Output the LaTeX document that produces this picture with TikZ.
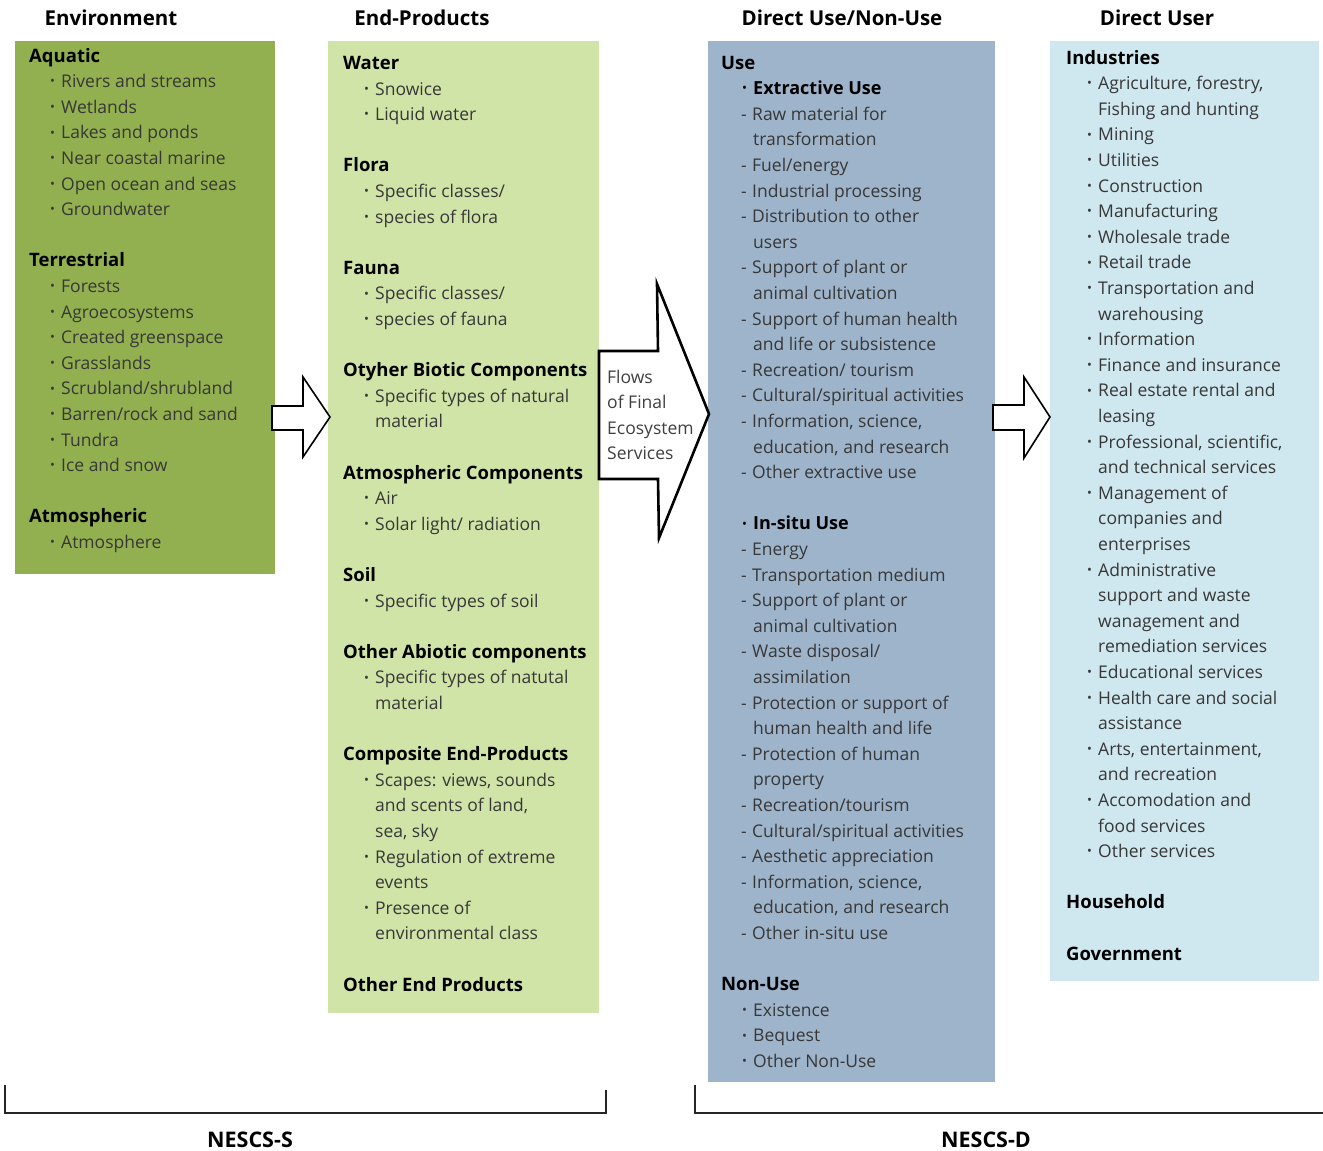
\documentclass[tikz,border=0pt]{standalone}
\usepackage{fontspec}
\setmainfont{Open Sans}
\definecolor{envgreen}{RGB}{146,176,80}
\definecolor{endgreen}{RGB}{209,228,167}
\definecolor{useblue}{RGB}{158,180,203}
\definecolor{userblue}{RGB}{207,231,238}
\definecolor{itemgray}{RGB}{55,55,55}
\newcommand\smallbul{\raisebox{0.1em}{\fontsize{13}{13}\selectfont\textbullet}}
\newcommand\hd[1]{{\fontsize{18.5}{20}\selectfont\bfseries\color{black}#1}}
\newcommand\bi[1]{\hspace*{21pt}\makebox[11pt][l]{\smallbul}#1}
\newcommand\bb[1]{\hspace*{21pt}\makebox[11pt][l]{\color{black}\smallbul}{\fontsize{18}{20}\selectfont\bfseries\color{black}#1}}
\newcommand\cn[1]{\hspace*{32pt}#1}
\newcommand\da[1]{\hspace*{20pt}\makebox[11pt][l]{-}#1}
\begin{document}
\begin{tikzpicture}[x=1pt,y=-1pt,
  txt/.style={font=\fontsize{17.5}{20}\selectfont, inner sep=0pt, anchor=base west, text=itemgray},
  colhead/.style={font=\bfseries\fontsize{20.5}{22}\selectfont, inner sep=0pt, anchor=base},
  foot/.style={font=\bfseries\fontsize{21.5}{22}\selectfont, inner sep=0pt, anchor=base},
  blockarrow/.style={draw=black, fill=white, line join=miter},
  bracket/.style={draw=black!85, line width=1.6pt}]
\useasboundingbox (0,0) rectangle (1323,1151);

% column headers
\node[colhead] (h1) at (111,25) {Environment};
\node[colhead] (h2) at (422,25) {End-Products};
\node[colhead] (h3) at (842,25) {Direct Use/Non-Use};
\node[colhead] (h4) at (1157,25) {Direct User};

% boxes
\fill[envgreen] (15,41) rectangle (275,574);
\fill[endgreen] (328,41) rectangle (599,1013);
\fill[useblue] (708,41) rectangle (995,1082);
\fill[userblue] (1050,41) rectangle (1319,981);

% box 1
\foreach \t [count=\i from 0] in {
 {\hd{Aquatic}}, {\bi{Rivers and streams}}, {\bi{Wetlands}}, {\bi{Lakes and ponds}},
 {\bi{Near coastal marine}}, {\bi{Open ocean and seas}}, {\bi{Groundwater}}, {},
 {\hd{Terrestrial}}, {\bi{Forests}}, {\bi{Agroecosystems}}, {\bi{Created greenspace}},
 {\bi{Grasslands}}, {\bi{Scrubland/shrubland}}, {\bi{Barren/rock and sand}},
 {\bi{Tundra}}, {\bi{Ice and snow}}, {},
 {\hd{Atmospheric}}, {\bi{Atmosphere}}}
  \node[txt] (env\i) at (29,{62+25.6*\i}) {\t};

% box 2
\foreach \t [count=\i from 0] in {
 {\hd{Water}}, {\bi{Snowice}}, {\bi{Liquid water}}, {},
 {\hd{Flora}}, {\bi{Specific classes/}}, {\bi{species of flora}}, {},
 {\hd{Fauna}}, {\bi{Specific classes/}}, {\bi{species of fauna}}, {},
 {\hd{Otyher Biotic Components}}, {\bi{Specific types of natural}}, {\cn{material}}, {},
 {\hd{Atmospheric Components}}, {\bi{Air}}, {\bi{Solar light/ radiation}}, {},
 {\hd{Soil}}, {\bi{Specific types of soil}}, {},
 {\hd{Other Abiotic components}}, {\bi{Specific types of natutal}}, {\cn{material}}, {},
 {\hd{Composite End-Products}}, {\bi{Scapes: views, sounds}}, {\cn{and scents of land,}},
 {\cn{sea, sky}}, {\bi{Regulation of extreme}}, {\cn{events}}, {\bi{Presence of}},
 {\cn{environmental class}}, {},
 {\hd{Other End Products}}}
  \node[txt] (end\i) at (343,{69.4+25.6*\i}) {\t};

% box 3
\foreach \t [count=\i from 0] in {
 {\hd{Use}}, {\bb{Extractive Use}},
 {\da{Raw material for}}, {\cn{transformation}}, {\da{Fuel/energy}},
 {\da{Industrial processing}}, {\da{Distribution to other}}, {\cn{users}},
 {\da{Support of plant or}}, {\cn{animal cultivation}},
 {\da{Support of human health}}, {\cn{and life or subsistence}},
 {\da{Recreation/ tourism}}, {\da{Cultural/spiritual activities}},
 {\da{Information, science,}}, {\cn{education, and research}},
 {\da{Other extractive use}}, {},
 {\bb{In-situ Use}}, {\da{Energy}}, {\da{Transportation medium}},
 {\da{Support of plant or}}, {\cn{animal cultivation}},
 {\da{Waste disposal/}}, {\cn{assimilation}},
 {\da{Protection or support of}}, {\cn{human health and life}},
 {\da{Protection of human}}, {\cn{property}},
 {\da{Recreation/tourism}}, {\da{Cultural/spiritual activities}},
 {\da{Aesthetic appreciation}}, {\da{Information, science,}},
 {\cn{education, and research}}, {\da{Other in-situ use}}, {},
 {\hd{Non-Use}}, {\bi{Existence}}, {\bi{Bequest}}, {\bi{Other Non-Use}}}
  \node[txt] (use\i) at (721,{69+25.6*\i}) {\t};

% box 4
\foreach \t [count=\i from 0] in {
 {\hd{Industries}}, {\bi{Agriculture, forestry,}}, {\cn{Fishing and hunting}},
 {\bi{Mining}}, {\bi{Utilities}}, {\bi{Construction}}, {\bi{Manufacturing}},
 {\bi{Wholesale trade}}, {\bi{Retail trade}}, {\bi{Transportation and}},
 {\cn{warehousing}}, {\bi{Information}}, {\bi{Finance and insurance}},
 {\bi{Real estate rental and}}, {\cn{leasing}},
 {\bi{Professional, scientific,}}, {\cn{and technical services}},
 {\bi{Management of}}, {\cn{companies and}}, {\cn{enterprises}},
 {\bi{Administrative}}, {\cn{support and waste}}, {\cn{wanagement and}},
 {\cn{remediation services}}, {\bi{Educational services}},
 {\bi{Health care and social}}, {\cn{assistance}},
 {\bi{Arts, entertainment,}}, {\cn{and recreation}},
 {\bi{Accomodation and}}, {\cn{food services}}, {\bi{Other services}}, {},
 {\hd{Household}}, {},
 {\hd{Government}}}
  \node[txt] (usr\i) at (1066,{64+25.6*\i}) {\t};

% block arrows
\path[blockarrow, line width=1.6pt] (272,406) -- (303,406) -- (303,377) -- (330,417)
  -- (303,457) -- (303,430) -- (272,430) -- cycle;
\path[blockarrow, line width=2.6pt] (599,351) -- (658,351) -- (657,284) -- (709,414)
  -- (659,538) -- (658,479) -- (599,479) -- cycle;
\path[blockarrow, line width=1.6pt] (993,405) -- (1024,405) -- (1024,377) -- (1050,417)
  -- (1024,458) -- (1024,430) -- (993,430) -- cycle;

\foreach \t [count=\i from 0] in {Flows, of Final, Ecosystem, Services}
  \node[txt, font=\fontsize{17.5}{20}\selectfont, text=black!75] (flow\i) at (607,{383+25.6*\i}) {\t};

% brackets
\coordinate (sa) at (5,1085);
\coordinate (sb) at (5,1113);
\coordinate (sc) at (606,1113);
\coordinate (sd) at (606,1090);
\draw[bracket] (sa) -- (sb) -- (sc) -- (sd);
\coordinate (da) at (695,1085);
\coordinate (db) at (695,1113);
\coordinate (dc) at (1323,1113);
\draw[bracket] (da) -- (db) -- (dc);

\node[foot] (ns) at (250,1147) {NESCS-S};
\node[foot] (nd) at (986,1147) {NESCS-D};
\end{tikzpicture}
\end{document}
